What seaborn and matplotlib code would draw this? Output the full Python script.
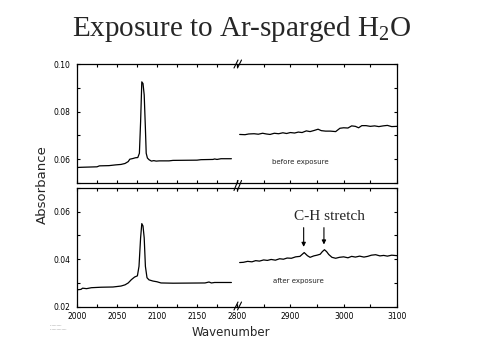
import numpy as np
import pandas as pd
import matplotlib
matplotlib.use("Agg")
import matplotlib.pyplot as plt
from matplotlib.lines import Line2D
from matplotlib.ticker import MultipleLocator, FormatStrFormatter
import seaborn as sns

# ---------------- data ----------------
title = "Exposure to Ar-sparged H$_2$O"
y_label = "Absorbance"
x_label = "Wavenumber"
label_before = "before exposure"
label_after = "after exposure"
peak_label = "C-H stretch"

wn_low_before = [2000, 2005, 2015, 2025, 2028, 2040, 2048, 2055, 2060, 2064, 2066, 2070, 2073, 2076,
                 2078, 2079.5, 2081, 2082.5, 2084, 2085.5, 2086.5, 2088, 2090, 2093, 2096, 2099, 2103,
                 2115, 2120, 2150, 2155, 2170, 2172, 2175, 2180, 2193]
abs_low_before = [0.0565, 0.0566, 0.0567, 0.0568, 0.0572, 0.0573, 0.0576, 0.0578, 0.0582, 0.0590, 0.0600,
                  0.0603, 0.0606, 0.0607, 0.0625, 0.0757, 0.0925, 0.0918, 0.0870, 0.0730, 0.0625, 0.0605,
                  0.0598, 0.0592, 0.0594, 0.0592, 0.0593, 0.0593, 0.0595, 0.0596, 0.0598, 0.0599, 0.0601,
                  0.0599, 0.0602, 0.0602]

wn_high_before = [2805, 2815, 2822, 2832, 2840, 2848, 2855, 2862, 2870, 2878, 2886, 2893, 2900, 2908,
                  2915, 2922, 2930, 2937, 2945, 2952, 2958, 2966, 2975, 2985, 2993, 3000, 3008, 3015,
                  3022, 3028, 3034, 3042, 3050, 3058, 3066, 3074, 3082, 3090, 3100]
abs_high_before = [0.0704, 0.0703, 0.0706, 0.0707, 0.0705, 0.0709, 0.0706, 0.0704, 0.0709, 0.0707,
                   0.0711, 0.0708, 0.0712, 0.0710, 0.0714, 0.0712, 0.0719, 0.0716, 0.0721, 0.0726,
                   0.0720, 0.0718, 0.0718, 0.0716, 0.0730, 0.0732, 0.0731, 0.0740, 0.0738, 0.0732,
                   0.0741, 0.0741, 0.0738, 0.0740, 0.0737, 0.0740, 0.0742, 0.0737, 0.0738]

wn_low_after = [2000, 2005, 2007, 2012, 2018, 2030, 2045, 2055, 2060, 2064, 2068, 2072, 2075.5, 2077.5,
                2079.5, 2081, 2082.5, 2084, 2085.5, 2087.5, 2090, 2095, 2100, 2105, 2120, 2160, 2165,
                2168, 2172, 2193]
abs_low_after = [0.0271, 0.0273, 0.0278, 0.0276, 0.0280, 0.0282, 0.0283, 0.0287, 0.0292, 0.0300, 0.0314,
                 0.0325, 0.0330, 0.0370, 0.0490, 0.0550, 0.0540, 0.0490, 0.0370, 0.0322, 0.0313, 0.0308,
                 0.0305, 0.0300, 0.0299, 0.0300, 0.0304, 0.0300, 0.0302, 0.0302]

wn_high_after = [2805, 2812, 2820, 2828, 2835, 2842, 2850, 2857, 2864, 2872, 2880, 2887, 2894, 2902,
                 2910, 2918, 2926, 2932, 2937, 2944, 2950, 2956, 2960, 2964, 2968, 2972, 2978, 2985,
                 2992, 3000, 3008, 3015, 3022, 3030, 3038, 3045, 3052, 3060, 3068, 3075, 3082, 3090, 3100]
abs_high_after = [0.0386, 0.0387, 0.0391, 0.0389, 0.0394, 0.0392, 0.0397, 0.0395, 0.0399, 0.0396,
                  0.0402, 0.0400, 0.0405, 0.0404, 0.0410, 0.0412, 0.0428, 0.0415, 0.0408, 0.0414,
                  0.0417, 0.0421, 0.0432, 0.0440, 0.0432, 0.0420, 0.0408, 0.0404, 0.0408, 0.0410,
                  0.0406, 0.0412, 0.0409, 0.0413, 0.0409, 0.0412, 0.0417, 0.0419, 0.0414, 0.0416,
                  0.0413, 0.0417, 0.0415]

arrow_peaks = [2925, 2963]

# ---------------- figure ----------------
sns.set_style("white")
plt.rcParams["font.family"] = ["DejaVu Sans"]
plt.rcParams["mathtext.default"] = "regular"

W, H = 480, 360
fig = plt.figure(figsize=(W / 100, H / 100), dpi=100)

def fx(px):
    return px / W

def fy(py):
    return 1 - py / H

L, M, R = 77, 237, 397
panels = [(64, 183, (0.05, 0.10)), (188, 306.7, (0.02, 0.07))]

axes = []
for (top, bot, ylim) in panels:
    axl = fig.add_axes([fx(L), fy(bot), fx(M - L), (bot - top) / H])
    axr = fig.add_axes([fx(M), fy(bot), fx(R - M), (bot - top) / H])
    for ax in (axl, axr):
        ax.set_ylim(*ylim)
        ax.set_facecolor("none")
        for s in ax.spines.values():
            s.set_color("black")
            s.set_linewidth(0.9)
        ax.tick_params(which="both", direction="in", length=2.5, width=0.8,
                       top=True, bottom=True, labelsize=5.5, colors="black")
        ax.tick_params(axis="x", pad=3.5)
        ax.tick_params(axis="y", pad=5)
        ax.yaxis.set_major_locator(MultipleLocator(0.02))
        ax.yaxis.set_minor_locator(MultipleLocator(0.01))
    axl.set_xlim(2000, 2200)
    axr.set_xlim(2800, 3100)
    axl.xaxis.set_minor_locator(MultipleLocator(25))
    axl.set_xticks([2000, 2050, 2100, 2150])
    axr.xaxis.set_major_locator(MultipleLocator(100))
    axr.xaxis.set_minor_locator(MultipleLocator(50))
    axl.spines["right"].set_visible(False)
    axr.spines["left"].set_visible(False)
    axl.tick_params(which="both", left=True, right=False, labelleft=True)
    axr.tick_params(which="both", left=False, right=True, labelleft=False, labelright=False)
    axl.yaxis.set_major_formatter(FormatStrFormatter("%.2f"))
    axes.append((axl, axr))

(ax_tl, ax_tr), (ax_bl, ax_br) = axes
for ax in (ax_tl, ax_tr):
    ax.tick_params(labelbottom=False)

line_kw = dict(color="black", linewidth=0.9, estimator=None, sort=False, legend=False)
sns.lineplot(x=wn_low_before, y=abs_low_before, ax=ax_tl, **line_kw)
sns.lineplot(x=wn_high_before, y=abs_high_before, ax=ax_tr, **line_kw)
sns.lineplot(x=wn_low_after, y=abs_low_after, ax=ax_bl, **line_kw)
sns.lineplot(x=wn_high_after, y=abs_high_after, ax=ax_br, **line_kw)
for ax in (ax_tl, ax_tr, ax_bl, ax_br):
    ax.set_xlabel("")
    ax.set_ylabel("")

ax_tr.set_xlim(2800, 3100)
ax_br.set_xlim(2800, 3100)
ax_tl.set_xlim(2000, 2200)
ax_bl.set_xlim(2000, 2200)

# text labels
ax_tr.text(2866, 0.0589, label_before, fontsize=5, va="center", ha="left")
ax_br.text(2868, 0.0309, label_after, fontsize=5, va="center", ha="left")
ax_br.text(2974, 0.0580, peak_label, fontsize=11, family="Liberation Serif",
           ha="center", va="center")
for xp, ytip in zip(arrow_peaks, [0.0452, 0.0462]):
    ax_br.annotate("", xy=(xp, ytip), xytext=(xp, 0.0533),
                   arrowprops=dict(arrowstyle="-|>", color="black", lw=0.8,
                                   mutation_scale=6, shrinkA=0, shrinkB=0))

# break marks
for cy, half in [(64, 4), (185.5, 5), (306, 4)]:
    for dx in (0, 3.5):
        x0 = M - 1 + dx
        fig.add_artist(Line2D([fx(x0 - 2), fx(x0 + 2)], [fy(cy + half), fy(cy - half)],
                              color="black", lw=0.8))

# titles / axis labels
fig.text(fx(242), fy(29), title, fontsize=21, family="Liberation Serif",
         ha="center", va="center")
fig.text(fx(42), fy(185), y_label, fontsize=9.5, rotation=90, ha="center", va="center")
fig.text(fx(231), fy(333), x_label, fontsize=8.5, ha="center", va="center")

# tiny footnote marks
fig.text(fx(50), fy(325.5), "..........", fontsize=3, ha="left", va="center")
fig.text(fx(50), fy(329.5), "..............", fontsize=3, ha="left", va="center")

fig.savefig("out.png", dpi=100, facecolor="white")
